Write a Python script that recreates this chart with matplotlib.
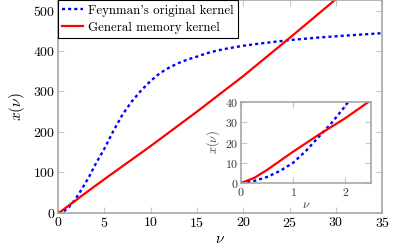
import numpy as np
import matplotlib
matplotlib.use('Agg')
import matplotlib.pyplot as plt

# values
nu_feyn = [0, 0.25, 0.5, 0.75, 1, 1.25, 1.5, 1.75, 2, 2.5, 3, 3.5, 4, 5, 6, 7, 8, 9, 10, 11, 12, 13, 14,
           15, 16, 17, 18, 20, 22, 25, 28, 31, 35]
x_feyn = [0, 1, 3, 6, 10, 16, 23, 30, 38, 56, 75, 95, 118, 158, 203, 244, 276, 303, 326, 345, 359, 370, 379,
          386, 394, 400, 405, 413, 419, 427, 433, 438, 444]

nu_mem = [0, 0.25, 0.5, 0.75, 1, 1.5, 2, 2.5, 5, 10, 15, 20, 25, 30, 35]
x_mem = [0, 2.5, 6.5, 11, 15.5, 24, 32, 41, 83, 165, 250, 338, 432, 528, 625]

plt.rcParams['font.family'] = 'serif'
plt.rcParams['font.serif'] = ['cmr10']
plt.rcParams['mathtext.fontset'] = 'cm'
plt.rcParams['axes.formatter.use_mathtext'] = True

gray = '#a0a0a0'

def style(ax, size, col='black'):
    for s in ax.spines.values():
        s.set_color(gray)
        s.set_linewidth(1.1)
    ax.tick_params(direction='in', top=True, right=True, color='#c8c8c8',
                   length=4, width=0.8, labelsize=size, pad=2, labelcolor=col)

fig = plt.figure(figsize=(3.94, 2.49), dpi=100)
ax = fig.add_axes([0.147, 0.145, 0.823, 0.855])
ax.plot(nu_feyn, x_feyn, color='blue', lw=1.7, dashes=(1.3, 1.3),
        label="Feynman's original kernel")
ax.plot(nu_mem, x_mem, color='red', lw=1.6, label='General memory kernel')
ax.set_xlim(0, 35)
ax.set_ylim(0, 526)
ax.set_xticks(range(0, 36, 5))
ax.set_yticks(range(0, 501, 100))
style(ax, 10)
ax.set_xlabel(r'$\nu$', fontsize=11, labelpad=2)
ax.set_ylabel(r'$x(\nu)$', fontsize=11, labelpad=4)
leg = ax.legend(loc='upper left', borderaxespad=0, fancybox=False, fontsize=9.3,
                handlelength=1.6, handletextpad=0.35, borderpad=0.35,
                labelspacing=0.4, framealpha=1)
leg.get_frame().set_edgecolor('black')
leg.get_frame().set_linewidth(0.8)

ins = fig.add_axes([0.612, 0.265, 0.330, 0.325])
ins.plot(nu_feyn, x_feyn, color='blue', lw=1.7, dashes=(1.3, 1.3))
ins.plot(nu_mem, x_mem, color='red', lw=1.6)
ins.set_xlim(0, 2.5)
ins.set_ylim(0, 40)
ins.set_xticks([0, 1, 2])
ins.set_yticks(range(0, 41, 10))
style(ins, 8.5, '#333333')
ins.set_xlabel(r'$\nu$', fontsize=9, labelpad=1, color='#444444')
ins.set_ylabel(r'$x(\nu)$', fontsize=9, labelpad=2, color='#444444')

fig.savefig('out.png', dpi=100)
